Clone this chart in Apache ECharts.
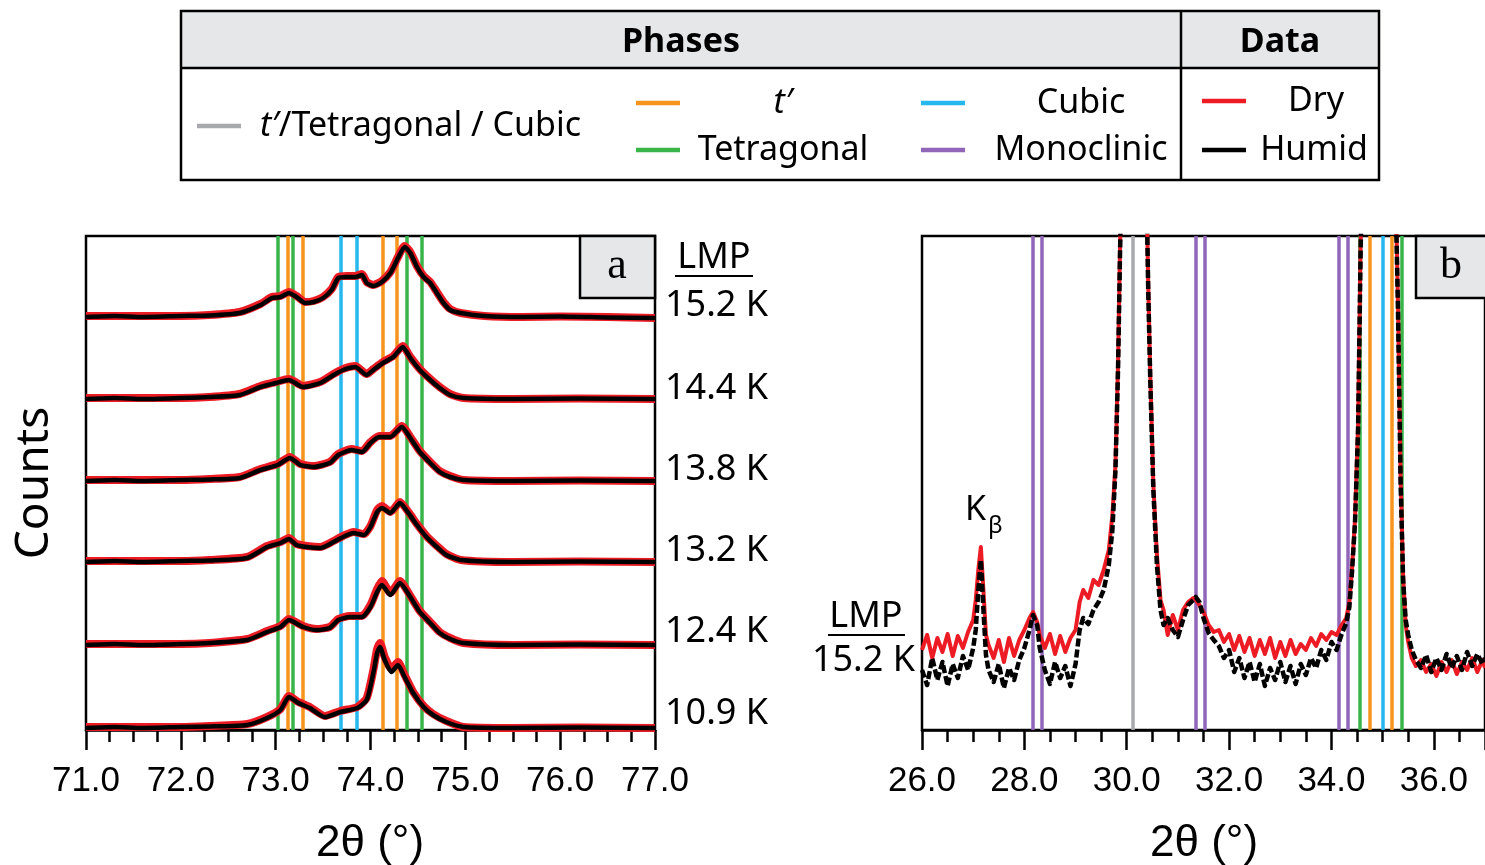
<!DOCTYPE html>
<html>
<head>
<meta charset="utf-8">
<script src="https://cdn.jsdelivr.net/npm/echarts@6/dist/echarts.min.js"></script>
<style>
  html, body { margin: 0; padding: 0; background: #fff; }
  #chart { width: 1485px; height: 865px; }
</style>
</head>
<body>
<div id="chart"></div>
<script>
// ---- data: panel a (71-77 deg), intensity above each curve's baseline ----
const tempLabels = ['15.2 K', '14.4 K', '13.8 K', '13.2 K', '12.4 K', '10.9 K'];
const offsetsA = [413, 331, 249, 168, 85, 2];

const humid152 = [[71.0,0],[71.3,1],[71.6,0],[72.0,1],[72.3,1.5],[72.62,4],[72.84,12],[72.96,19],[73.05,20],[73.14,24],[73.22,20],[73.31,14],[73.40,15],[73.50,19],[73.59,27],[73.66,39],[73.75,40],[73.84,40],[73.91,42],[73.96,34],[74.03,31],[74.12,35],[74.21,44],[74.29,59],[74.36,70],[74.42,64],[74.49,50],[74.56,40],[74.63,34],[74.70,24],[74.77,14],[74.84,7],[74.95,4],[75.2,1],[75.6,0],[76.0,0.5],[76.5,-0.5],[77.0,-1]];
const dry152 = [[71.0,1],[71.3,1],[71.6,1],[72.0,1],[72.3,2],[72.62,5],[72.84,13],[72.96,20],[73.05,21],[73.14,25],[73.22,21],[73.31,15],[73.40,16],[73.50,20],[73.59,28],[73.66,40],[73.75,41],[73.84,41],[73.91,43],[73.96,35],[74.03,32],[74.12,36],[74.21,45],[74.29,60],[74.36,71],[74.42,65],[74.49,51],[74.56,41],[74.63,35],[74.70,25],[74.77,15],[74.84,8],[74.95,4],[75.2,1],[75.6,0],[76.0,0.5],[76.5,0],[77.0,-1]];

const humid144 = [[71.0,0],[71.3,1],[71.6,0],[72.0,1],[72.3,2],[72.62,4],[72.84,12],[73.0,16],[73.14,19],[73.29,12],[73.47,16],[73.61,24],[73.71,29],[73.84,32],[73.96,24],[74.03,29],[74.13,36],[74.24,42],[74.34,52],[74.42,41],[74.52,29],[74.63,19],[74.73,11],[74.84,4],[74.98,1],[75.5,0],[76.2,0.5],[77.0,0]];
const dry144 = [[71.0,1],[71.3,1],[71.6,1],[72.0,1],[72.3,2],[72.62,5],[72.84,13],[73.0,17],[73.14,20],[73.29,13],[73.47,17],[73.61,25],[73.71,30],[73.84,33],[73.96,25],[74.03,30],[74.13,37],[74.24,43],[74.34,53],[74.42,42],[74.52,30],[74.63,20],[74.73,12],[74.84,5],[74.98,1],[75.5,0],[76.2,0.5],[77.0,0]];

const humid138 = [[71.0,0],[71.3,1],[71.6,0],[72.0,1],[72.3,1.5],[72.62,3],[72.84,11],[73.02,16],[73.15,23],[73.26,16],[73.40,14],[73.57,18],[73.66,26],[73.80,31],[73.91,29],[74.0,38],[74.09,44],[74.21,44],[74.33,54],[74.42,43],[74.52,29],[74.63,18],[74.73,9],[74.84,4],[74.98,1],[75.5,0],[76.2,0.5],[77.0,0]];
const dry138 = [[71.0,1],[71.3,1],[71.6,1],[72.0,1],[72.3,2],[72.62,4],[72.84,12],[73.02,17],[73.15,24],[73.26,17],[73.40,15],[73.57,19],[73.66,27],[73.80,32],[73.91,30],[74.0,39],[74.09,45],[74.21,45],[74.33,55],[74.42,44],[74.52,30],[74.63,19],[74.73,10],[74.84,5],[74.98,1],[75.5,0],[76.2,0.5],[77.0,0]];

const humid132 = [[71.0,0],[71.3,1],[71.6,0],[72.0,1],[72.3,1.5],[72.70,4],[72.91,15],[73.05,19],[73.14,23],[73.22,17],[73.33,15],[73.47,14],[73.61,20],[73.71,25],[73.82,29],[73.93,27],[74.0,35],[74.07,50],[74.12,54],[74.21,49],[74.31,59],[74.40,49],[74.49,37],[74.59,25],[74.70,15],[74.80,7],[74.95,2],[75.5,0],[76.2,0.5],[77.0,0]];
const dry132 = [[71.0,1],[71.3,1],[71.6,1],[72.0,1],[72.3,2],[72.70,5],[72.91,16],[73.05,20],[73.14,24],[73.22,18],[73.33,16],[73.47,15],[73.61,21],[73.71,26],[73.82,30],[73.93,28],[74.0,36],[74.07,52],[74.12,56],[74.21,50],[74.31,60],[74.40,50],[74.49,38],[74.59,26],[74.70,16],[74.80,8],[74.95,2],[75.5,0],[76.2,0.5],[77.0,0]];

const humid124 = [[71.0,0],[71.3,1],[71.6,0],[72.0,1],[72.3,2],[72.70,5],[72.91,13],[73.05,18],[73.14,25],[73.29,18],[73.43,15],[73.57,17],[73.66,25],[73.78,28],[73.91,28],[74.0,38],[74.07,53],[74.12,60],[74.21,50],[74.31,62],[74.42,48],[74.52,33],[74.63,22],[74.73,12],[74.84,6],[74.98,2],[75.5,0],[76.2,0.5],[77.0,0]];
const dry124 = [[71.0,1],[71.3,1],[71.6,1],[72.0,1],[72.3,2],[72.70,6],[72.91,14],[73.05,19],[73.14,26],[73.29,19],[73.43,16],[73.57,18],[73.66,26],[73.78,29],[73.91,29],[74.0,40],[74.07,56],[74.12,64],[74.21,52],[74.31,64],[74.42,49],[74.52,34],[74.63,23],[74.73,13],[74.84,7],[74.98,2],[75.5,0],[76.2,0.5],[77.0,0]];

const humid109 = [[71.0,0],[71.3,1],[71.6,0],[72.0,1],[72.3,1.5],[72.70,3],[72.91,10],[73.05,18],[73.14,31],[73.24,25],[73.36,20],[73.52,11],[73.68,16],[73.86,20],[73.96,28],[74.03,55],[74.07,75],[74.10,81],[74.15,68],[74.22,56],[74.29,63],[74.36,51],[74.45,35],[74.56,21],[74.66,13],[74.80,6],[74.98,1],[75.5,0],[76.2,0.5],[77.0,0]];
const dry109 = [[71.0,1],[71.3,1],[71.6,1],[72.0,1],[72.3,2],[72.70,4],[72.91,11],[73.05,19],[73.14,32],[73.24,26],[73.36,21],[73.52,12],[73.68,17],[73.86,21],[73.96,30],[74.03,58],[74.07,79],[74.10,85],[74.15,71],[74.22,59],[74.29,66],[74.36,53],[74.45,36],[74.56,22],[74.66,14],[74.80,7],[74.98,1],[75.5,0],[76.2,0.5],[77.0,0]];

const humidA = [humid152, humid144, humid138, humid132, humid124, humid109];
const dryA = [dry152, dry144, dry138, dry132, dry124, dry109];

// phase reflections, panel a
const tetragonalA = [73.02, 73.18, 74.38, 74.54];
const tPrimeA = [73.13, 73.29, 74.13, 74.28];
const cubicA = [73.69, 73.85];

// ---- data: panel b (26-37 deg), LMP 15.2 K ----
const humidB = [[26.0,60],[26.1,45],[26.2,72],[26.3,50],[26.4,68],[26.5,44],[26.6,66],[26.7,52],[26.8,74],[26.9,60],[27.0,82],[27.05,100],[27.1,140],[27.15,170],[27.2,120],[27.25,75],[27.3,60],[27.4,48],[27.5,66],[27.6,42],[27.7,62],[27.8,50],[27.9,70],[28.0,82],[28.1,100],[28.17,115],[28.25,105],[28.3,82],[28.4,60],[28.5,46],[28.6,68],[28.7,52],[28.8,64],[28.9,44],[29.0,66],[29.08,100],[29.15,112],[29.25,106],[29.35,120],[29.45,128],[29.55,140],[29.65,165],[29.72,200],[29.78,260],[29.83,360],[29.87,480],[29.92,600],[30.0,800],[30.1,900],[30.2,850],[30.3,700],[30.38,560],[30.42,440],[30.46,350],[30.52,240],[30.59,165],[30.66,120],[30.72,105],[30.8,112],[30.9,100],[31.0,93],[31.1,110],[31.2,125],[31.3,130],[31.35,133],[31.42,128],[31.5,112],[31.6,97],[31.7,90],[31.8,84],[31.9,72],[32.0,80],[32.1,58],[32.2,72],[32.3,52],[32.4,68],[32.5,48],[32.6,66],[32.7,44],[32.8,62],[32.9,50],[33.0,68],[33.1,48],[33.2,64],[33.3,46],[33.4,66],[33.5,55],[33.6,72],[33.7,62],[33.8,80],[33.9,70],[34.0,88],[34.1,80],[34.2,96],[34.29,107],[34.35,123],[34.4,157],[34.46,207],[34.52,300],[34.57,480],[34.62,600],[34.8,900],[35.0,1000],[35.2,700],[35.26,520],[35.3,420],[35.35,250],[35.4,150],[35.45,110],[35.5,95],[35.57,80],[35.65,70],[35.75,62],[35.85,75],[35.95,58],[36.05,72],[36.15,60],[36.25,76],[36.35,62],[36.45,74],[36.55,60],[36.65,78],[36.75,64],[36.85,76],[36.95,66],[37.0,72]];
const dryB = [[26.0,80],[26.1,95],[26.2,72],[26.3,92],[26.4,78],[26.5,96],[26.6,74],[26.7,94],[26.8,82],[26.9,98],[27.0,110],[27.05,130],[27.1,160],[27.15,183],[27.2,140],[27.25,95],[27.3,85],[27.4,72],[27.5,90],[27.6,68],[27.7,92],[27.8,74],[27.9,90],[28.0,100],[28.1,112],[28.17,118],[28.25,108],[28.3,95],[28.4,82],[28.5,96],[28.6,76],[28.7,94],[28.8,78],[28.9,92],[29.0,100],[29.08,128],[29.15,140],[29.25,132],[29.35,150],[29.45,145],[29.55,160],[29.65,180],[29.72,215],[29.78,265],[29.83,365],[29.87,485],[29.92,600],[30.0,800],[30.1,900],[30.2,850],[30.3,700],[30.38,565],[30.42,445],[30.46,355],[30.52,245],[30.59,175],[30.66,130],[30.72,120],[30.8,95],[30.9,115],[31.0,100],[31.1,120],[31.2,128],[31.3,132],[31.35,130],[31.42,125],[31.5,118],[31.6,105],[31.7,98],[31.8,100],[31.9,88],[32.0,96],[32.1,80],[32.2,94],[32.3,78],[32.4,92],[32.5,74],[32.6,90],[32.7,76],[32.8,92],[32.9,72],[33.0,88],[33.1,74],[33.2,90],[33.3,76],[33.4,86],[33.5,80],[33.6,92],[33.7,84],[33.8,96],[33.9,90],[34.0,98],[34.1,95],[34.2,105],[34.29,112],[34.35,128],[34.4,160],[34.46,210],[34.52,305],[34.57,485],[34.62,600],[34.8,900],[35.0,1000],[35.2,700],[35.26,525],[35.3,425],[35.35,255],[35.4,155],[35.45,105],[35.5,88],[35.57,72],[35.65,64],[35.75,70],[35.85,58],[35.95,66],[36.05,54],[36.15,68],[36.25,58],[36.35,70],[36.45,56],[36.55,68],[36.65,60],[36.75,72],[36.85,58],[36.95,70],[37.0,62]];

// phase reflections, panel b
const monoclinicB = [28.17, 28.34, 31.35, 31.52, 34.15, 34.31];
const mixedB = [30.12];
const tetragonalB = [34.56, 35.38];
const tPrimeB = [34.75, 35.17];
const cubicB = [35.00];

const C = {
  gray: '#a7a9ac', orange: '#f7941d', green: '#39b54a',
  cubic: '#27b7ef', purple: '#9166b8', red: '#ed1c24', black: '#000'
};
const YMAX = 494;

const chart = echarts.init(document.getElementById('chart'));

function phaseLines(values, color, axis) {
  return {
    type: 'lines', coordinateSystem: 'cartesian2d',
    xAxisIndex: axis, yAxisIndex: axis, silent: true, z: 1,
    lineStyle: { color: color, width: 3.5, opacity: 1 },
    data: values.map(v => ({ coords: [[v, 0], [v, YMAX]] }))
  };
}

function trace(data, color, width, axis, dash, z, smooth) {
  return {
    type: 'line', xAxisIndex: axis, yAxisIndex: axis, data: data,
    showSymbol: false, silent: true, z: z, animation: false, smooth: smooth || false,
    lineStyle: { color: color, width: width, type: dash || 'solid', cap: 'butt', join: 'round' }
  };
}

const series = [
  phaseLines(tetragonalA, C.green, 0),
  phaseLines(tPrimeA, C.orange, 0),
  phaseLines(cubicA, C.cubic, 0),
  phaseLines(monoclinicB, C.purple, 1),
  phaseLines(mixedB, C.gray, 1),
  phaseLines(tetragonalB, C.green, 1),
  phaseLines(tPrimeB, C.orange, 1),
  phaseLines(cubicB, C.cubic, 1)
];
dryA.forEach((d, i) => series.push(trace(d.map(p => [p[0], p[1] + offsetsA[i]]), C.red, 8, 0, null, 3, 0.2)));
humidA.forEach((d, i) => series.push(trace(d.map(p => [p[0], p[1] + offsetsA[i]]), C.black, 4.5, 0, null, 4, 0.2)));
series.push(trace(dryB, C.red, 4, 1, null, 3));
series.push(trace(humidB, C.black, 4.5, 1, [8, 3], 4));

const tickFont = { fontFamily: 'Liberation Sans', fontSize: 35, color: '#000', margin: 34 };

function xAxis(grid, min, max, interval) {
  return {
    type: 'value', gridIndex: grid, min: min, max: max, interval: interval,
    splitLine: { show: false },
    axisLine: { show: true, lineStyle: { color: '#000', width: 2.5 } },
    axisTick: { show: true, length: 20, lineStyle: { color: '#000', width: 2.5 } },
    minorTick: { show: true, splitNumber: 4, length: 12, lineStyle: { color: '#000', width: 2.5 } },
    axisLabel: Object.assign({
      showMaxLabel: max % interval === 0 || (max - min) % interval === 0,
      formatter: v => (v > 36.5 && v < 40 ? '' : v.toFixed(1))
    }, tickFont)
  };
}

const serif = 'Liberation Serif';
const sans = 'Noto Sans';
const txt = (x, y, text, size, opts) => ({
  type: 'text', x: x, y: y, z: 100, silent: true,
  style: Object.assign({ text: text, font: size + 'px "' + sans + '"', fill: '#000', align: 'left', verticalAlign: 'middle' }, opts || {})
});
const seg = (x1, y1, x2, y2, color, w) => ({
  type: 'line', z: 100, silent: true,
  shape: { x1: x1, y1: y1, x2: x2, y2: y2 },
  style: { stroke: color, lineWidth: w }
});

const graphic = [
  // legend table
  { type: 'rect', z: 99, shape: { x: 181, y: 11, width: 1198, height: 57 }, style: { fill: '#e6e7e8', stroke: null } },
  { type: 'rect', z: 100, shape: { x: 181, y: 11, width: 1198, height: 169 }, style: { fill: null, stroke: '#000', lineWidth: 2.5 } },
  seg(181, 68, 1379, 68, '#000', 2.5),
  seg(1181, 11, 1181, 180, '#000', 2.5),
  txt(681, 42, 'Phases', 34, { font: 'bold 34px "Noto Sans"', align: 'center' }),
  txt(1280, 42, 'Data', 34, { font: 'bold 34px "Noto Sans"', align: 'center' }),
  seg(197, 126, 241, 126, C.gray, 4.5),
  txt(260, 126, '{i|t′}/Tetragonal / Cubic', 34, { rich: { i: { fontStyle: 'italic', fontSize: 34, fontFamily: sans } } }),
  seg(636, 103, 680, 103, C.orange, 4.5),
  txt(783, 103, 't′', 34, { font: 'italic 34px "Noto Sans"', align: 'center' }),
  seg(636, 150, 680, 150, C.green, 4.5),
  txt(783, 150, 'Tetragonal', 34, { align: 'center' }),
  seg(921, 103, 965, 103, C.cubic, 4.5),
  txt(1081, 103, 'Cubic', 34, { align: 'center' }),
  seg(921, 150, 965, 150, C.purple, 4.5),
  txt(1081, 150, 'Monoclinic', 34, { align: 'center' }),
  seg(1202, 101, 1246, 101, C.red, 4.5),
  txt(1316, 101, 'Dry', 34, { align: 'center' }),
  seg(1202, 150, 1246, 150, C.black, 4.5),
  txt(1314, 150, 'Humid', 34, { align: 'center' }),

  // panel labels
  { type: 'rect', z: 100, shape: { x: 580, y: 236, width: 75, height: 62 }, style: { fill: '#e6e7e8', stroke: '#000', lineWidth: 2.5 } },
  txt(617, 266, 'a', 44, { font: '44px "' + serif + '"', align: 'center' }),
  { type: 'rect', z: 100, shape: { x: 1416, y: 236, width: 80, height: 62 }, style: { fill: '#e6e7e8', stroke: '#000', lineWidth: 2.5 } },
  txt(1451, 266, 'b', 44, { font: '44px "' + serif + '"', align: 'center' }),

  // LMP labels
  txt(714, 258, 'LMP', 36, { align: 'center' }),
  seg(675, 276, 753, 276, '#000', 2),
  txt(866, 617, 'LMP', 36, { align: 'center' }),
  seg(828, 635, 905, 635, '#000', 2),
  txt(915, 661, '15.2 K', 36, { align: 'right' }),
  txt(986, 510, 'K', 34, { align: 'right' }),
  txt(988, 526, 'β', 24, { align: 'left' }),

  // axis titles
  { type: 'text', x: 35, y: 483, rotation: Math.PI / 2, z: 100, silent: true,
    style: { text: 'Counts', font: '46px "Noto Sans"', fill: '#000', align: 'center', verticalAlign: 'middle' } },
  txt(370, 844, '2θ (°)', 44, { font: '44px "Liberation Sans"', align: 'center' }),
  txt(1204, 844, '2θ (°)', 44, { font: '44px "Liberation Sans"', align: 'center' })
];
tempLabels.forEach((t, i) => {
  graphic.push(txt(665, [306, 389, 470, 551, 632, 714][i], t, 36));
});

chart.setOption({
  backgroundColor: '#fff',
  animation: false,
  grid: [
    { left: 86, top: 236, width: 569, height: 494, show: true, borderColor: '#000', borderWidth: 2.5, backgroundColor: 'transparent' },
    { left: 922, top: 236, width: 564, height: 494, show: true, borderColor: '#000', borderWidth: 2.5, backgroundColor: 'transparent' }
  ],
  xAxis: [xAxis(0, 71, 77, 1), xAxis(1, 26, 37, 2)],
  yAxis: [0, 1].map(g => ({
    type: 'value', gridIndex: g, min: 0, max: YMAX,
    axisLine: { show: false }, axisTick: { show: false },
    axisLabel: { show: false }, splitLine: { show: false }
  })),
  series: series,
  graphic: graphic
});
</script>
</body>
</html>
